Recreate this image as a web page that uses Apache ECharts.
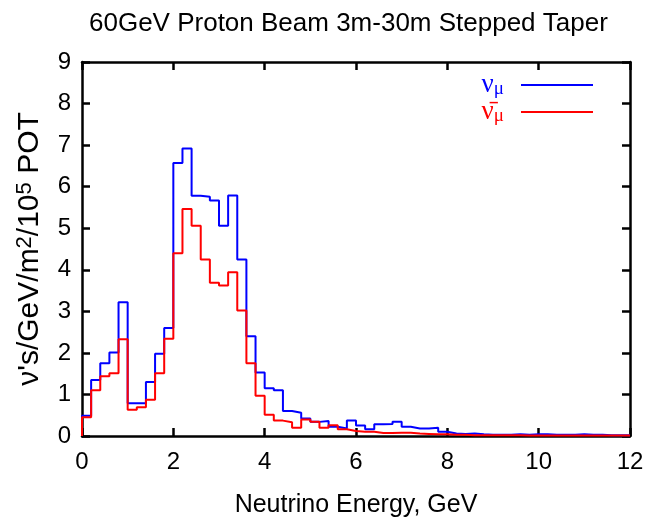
<!DOCTYPE html>
<html>
<head>
<meta charset="utf-8">
<script src="https://cdn.jsdelivr.net/npm/echarts@6/dist/echarts.min.js"></script>
<style>html,body{margin:0;padding:0;background:#fff}#c{width:652px;height:523px}</style>
</head>
<body>
<div id="c"></div>
<script>
// Bin left edges (GeV), width 0.2
var binWidth = 0.2;
var numu = [0.49,1.35,1.75,2.01,3.22,0.79,0.79,1.30,1.98,2.60,
            6.57,6.92,5.78,5.76,5.67,5.06,5.79,4.25,2.40,1.53,
            1.15,1.10,0.60,0.56,0.42,0.34,0.36,0.22,0.18,0.37,
            0.25,0.16,0.28,0.29,0.34,0.22,0.18,0.18,0.20,0.10,
            0.06,0.05,0.06,0.04,0.03,0.03,0.03,0.04,0.03,0.04,
            0.04,0.03,0.03,0.03,0.04,0.03,0.03,0.02,0.02,0.02];
var numubar = [0.45,1.10,1.44,1.51,2.33,0.63,0.69,0.87,1.51,2.34,
               4.40,5.46,5.06,4.25,3.69,3.62,3.94,3.02,1.75,0.97,
               0.51,0.37,0.33,0.20,0.40,0.34,0.20,0.26,0.16,0.12,
               0.10,0.10,0.07,0.07,0.08,0.08,0.06,0.05,0.04,0.04,
               0.03,0.03,0.02,0.02,0.02,0.02,0.02,0.02,0.01,0.01,
               0.01,0.01,0.01,0.01,0.01,0.01,0.01,0.01,0.01,0.01];
var xTicks = [0,2,4,6,8,10,12];
var yTicks = [0,1,2,3,4,5,6,7,8,9];

function toSteps(vals){
  var pts = [[0,0]];
  for (var i=0;i<vals.length;i++){ pts.push([+(i*binWidth).toFixed(2), vals[i]]); }
  pts.push([+(vals.length*binWidth).toFixed(2), vals[vals.length-1]]);
  return pts;
}

var FONT = 'Liberation Sans, Arial, sans-serif';
var SERIF = 'Liberation Serif, Times New Roman, serif';
var chart = echarts.init(document.getElementById('c'), null, {renderer:'canvas'});
var axisLine = {show:true, onZero:false, lineStyle:{color:'#000', width:2.5}};
var tick = {show:true, inside:true, length:8, lineStyle:{color:'#000', width:2.5}};
function legendFor(name, top, color, label){
  return {
    orient:'vertical', right:54, top:top, align:'right', itemGap:0,
    itemWidth:72, itemHeight:2, icon:'rect', selectedMode:false,
    data:[{name:name, textStyle:{color:color}}],
    formatter:function(){ return label; },
    textStyle:{
      fontFamily:SERIF, fontSize:24, color:color, padding:[0,12,0,0],
      rich:{
        a:{fontFamily:SERIF, fontSize:27, color:color, verticalAlign:'top', lineHeight:28},
        s:{fontFamily:SERIF, fontSize:19, color:color, verticalAlign:'bottom', lineHeight:20, padding:[12,0,0,0]}
      }
    }
  };
}
chart.setOption({
  animation:false,
  backgroundColor:'#fff',
  title:{
    text:'60GeV Proton Beam 3m-30m Stepped Taper',
    left:84, top:6,
    textStyle:{fontFamily:FONT, fontSize:26, fontWeight:'normal', color:'#000'}
  },
  legend:[
    legendFor('numu', 63, '#0000ff', '{a|ν}{s|μ}'),
    legendFor('numubar', 90, '#ff0000', '{a|ν̄}{s|μ}')
  ],
  grid:{left:82, right:22, top:62, bottom:83, containLabel:false},
  xAxis:[{
    type:'value', min:0, max:12, interval:2, position:'bottom',
    axisLine:axisLine, axisTick:tick, splitLine:{show:false},
    axisLabel:{fontFamily:FONT, fontSize:24, color:'#000', margin:14},
    name:'Neutrino Energy, GeV', nameLocation:'middle', nameGap:57,
    nameTextStyle:{fontFamily:FONT, fontSize:25, color:'#000'}
  },{
    type:'value', min:0, max:12, interval:2, position:'top',
    axisLine:axisLine, axisTick:tick, axisLabel:{show:false}, splitLine:{show:false}
  }],
  yAxis:[{
    type:'value', min:0, max:9, interval:1, position:'left',
    axisLine:axisLine, axisTick:tick, splitLine:{show:false},
    axisLabel:{fontFamily:FONT, fontSize:24, color:'#000', margin:11},
    name:"ν's/GeV/m{s|2}/10{s|5} POT", nameLocation:'middle', nameGap:36, nameRotate:90,
    nameTextStyle:{fontFamily:FONT, fontSize:30, color:'#000',
      rich:{s:{fontFamily:FONT, fontSize:22, color:'#000', verticalAlign:'top', padding:[0,0,10,0]}}}
  },{
    type:'value', min:0, max:9, interval:1, position:'right',
    axisLine:axisLine, axisTick:tick, axisLabel:{show:false}, splitLine:{show:false}
  }],
  series:[{
    name:'numu', type:'line', step:'end', data:toSteps(numu),
    showSymbol:false, symbol:'none', lineStyle:{color:'#0000ff', width:2}, itemStyle:{color:'#0000ff'}, z:3
  },{
    name:'numubar', type:'line', step:'end', data:toSteps(numubar),
    showSymbol:false, symbol:'none', lineStyle:{color:'#ff0000', width:2}, itemStyle:{color:'#ff0000'}, z:4
  }]
});
</script>
</body>
</html>
